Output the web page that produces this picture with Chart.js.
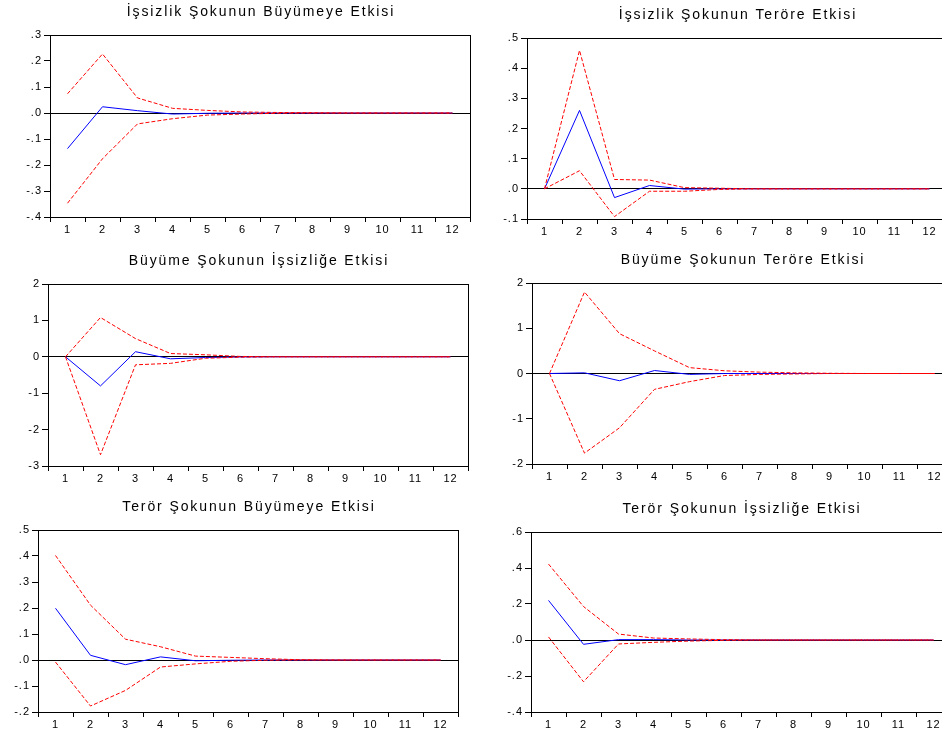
<!DOCTYPE html>
<html>
<head>
<meta charset="utf-8">
<script src="https://cdn.jsdelivr.net/npm/chart.js@4/dist/chart.umd.min.js"></script>
<style>
  html, body { margin: 0; padding: 0; background: #fff; overflow: hidden; width: 942px; height: 731px; }
  canvas { position: absolute; }
</style>
</head>
<body>
<canvas id="c1"></canvas>
<canvas id="c2"></canvas>
<canvas id="c3"></canvas>
<canvas id="c4"></canvas>
<canvas id="c5"></canvas>
<canvas id="c6"></canvas>
<script>
const periods = ['1', '2', '3', '4', '5', '6', '7', '8', '9', '10', '11', '12']

// İşsizlik şoku -> büyüme
const issBuyIrf = [-0.137, 0.024, 0.009, -0.004, -0.001, 0, 0, 0, 0, 0, 0, 0]
const issBuyUp = [0.074, 0.227, 0.058, 0.018, 0.010, 0.004, 0.002, 0.001, 0, 0, 0, 0]
const issBuyLo = [-0.347, -0.176, -0.042, -0.022, -0.008, -0.004, -0.001, 0, 0, 0, 0, 0]
const issBuyTicks = [-0.4, 0.3, 0.1]

// İşsizlik şoku -> terör
const issTerIrf = [0, 0.260, -0.029, 0.011, -0.001, 0, 0, 0, 0, 0, 0, 0]
const issTerUp = [0, 0.459, 0.031, 0.029, 0.004, 0.002, 0, 0, 0, 0, 0, 0]
const issTerLo = [0, 0.060, -0.092, -0.008, -0.008, -0.002, 0, 0, 0, 0, 0, 0]
const issTerTicks = [-0.1, 0.5, 0.1]

// Büyüme şoku -> işsizlik
const buyIssIrf = [0, -0.80, 0.14, -0.055, -0.02, -0.005, 0, 0, 0, 0, 0, 0]
const buyIssUp = [0, 1.08, 0.50, 0.09, 0.055, 0.01, 0, 0, 0, 0, 0, 0]
const buyIssLo = [0, -2.69, -0.22, -0.18, -0.04, -0.01, 0, 0, 0, 0, 0, 0]
const buyIssTicks = [-3, 2, 1]

// Büyüme şoku -> terör
const buyTerIrf = [0, 0.015, -0.16, 0.066, -0.02, 0, 0, 0, 0, 0, 0, 0]
const buyTerUp = [0, 1.80, 0.88, 0.50, 0.13, 0.06, 0.03, 0.015, 0.005, 0, 0, 0]
const buyTerLo = [0, -1.76, -1.20, -0.35, -0.18, -0.045, -0.02, -0.01, 0, 0, 0, 0]
const buyTerTicks = [-2, 2, 1]

// Terör şoku -> büyüme
const terBuyIrf = [0.199, 0.018, -0.018, 0.012, -0.003, -0.001, 0, 0, 0, 0, 0, 0]
const terBuyUp = [0.402, 0.211, 0.080, 0.051, 0.015, 0.010, 0.005, 0.001, 0, 0, 0, 0]
const terBuyLo = [-0.008, -0.177, -0.117, -0.027, -0.015, -0.005, -0.001, 0, 0, 0, 0, 0]
const terBuyTicks = [-0.2, 0.5, 0.1]

// Terör şoku -> işsizlik
const terIssIrf = [0.220, -0.024, 0.002, 0.002, 0, 0, 0, 0, 0, 0, 0, 0]
const terIssUp = [0.422, 0.186, 0.033, 0.011, 0.006, 0.002, 0, 0, 0, 0, 0, 0]
const terIssLo = [0.017, -0.232, -0.022, -0.013, -0.006, -0.002, 0, 0, 0, 0, 0, 0]
const terIssTicks = [-0.4, 0.6, 0.2]

const PLOT_W = 420
const Y_W = 50
const TITLE_H = 35
const X_H = 25
const FONT = '"Liberation Sans", Arial, sans-serif'

Chart.defaults.font.family = FONT
Chart.defaults.font.size = 11
Chart.defaults.color = '#000'

// frame round the plot area + panel title centred over it
const panelPlugin = {
  id: 'panel',
  beforeDraw(chart) {
    chart.ctx.letterSpacing = '1px'
  },
  afterDraw(chart, args, opts) {
    const a = chart.chartArea
    const ctx = chart.ctx
    ctx.save()
    ctx.strokeStyle = '#000'
    ctx.lineWidth = 1
    ctx.strokeRect(Math.round(a.left) + 0.5, Math.round(a.top) + 0.5, Math.round(a.right - a.left), Math.round(a.bottom - a.top))
    ctx.letterSpacing = '1.9px'
    ctx.font = '14px ' + FONT
    ctx.fillStyle = '#000'
    ctx.textAlign = 'center'
    ctx.textBaseline = 'middle'
    ctx.fillText(opts.text, (a.left + a.right) / 2 + 1, a.top - 23)
    ctx.restore()
  }
}

function fmtTick(step) {
  return v => {
    if (Math.abs(v) < 1e-9) v = 0
    if (Number.isInteger(step)) return String(Math.round(v))
    return v.toFixed(1).replace(/^(-?)0\./, '$1.')
  }
}

function makePanel(id, title, box, ticks, irf, up, lo) {
  const el = document.getElementById(id)
  el.width = PLOT_W + 2 * Y_W
  el.height = TITLE_H + (box.B - box.T) + X_H
  el.style.left = (box.L - Y_W) + 'px'
  el.style.top = (box.T - TITLE_H) + 'px'

  new Chart(el, {
    type: 'line',
    data: {
      labels: periods,
      datasets: [{
        data: up,
        borderColor: '#FF0000',
        borderWidth: 1,
        borderDash: [4, 2]
      },
      {
        data: lo,
        borderColor: '#FF0000',
        borderWidth: 1,
        borderDash: [4, 2]
      },
      {
        data: irf,
        borderColor: '#0000FF',
        borderWidth: 1
      }]
    },
    options: {
      responsive: false,
      animation: false,
      devicePixelRatio: 1,
      layout: { padding: { left: 0, right: Y_W, top: TITLE_H, bottom: 0 } },
      elements: { point: { radius: 0 }, line: { tension: 0 } },
      plugins: {
        legend: { display: false },
        tooltip: { enabled: false },
        title: { display: false },
        panel: { text: title }
      },
      scales: {
        x: {
          offset: true,
          grid: { offset: true, drawOnChartArea: false, tickLength: 5, tickColor: '#000' },
          border: { display: true, color: '#000' },
          ticks: { autoSkip: false, maxRotation: 0, padding: 1, color: '#000' },
          afterFit: s => { s.height = X_H }
        },
        y: {
          min: ticks[0],
          max: ticks[1],
          grid: {
            drawOnChartArea: true,
            tickLength: 6,
            tickColor: '#000',
            color: c => (c.tick && Math.abs(c.tick.value) < 1e-9) ? '#000' : 'rgba(0,0,0,0)'
          },
          border: { display: true, color: '#000' },
          ticks: { stepSize: ticks[2], padding: 2, color: '#000', callback: fmtTick(ticks[2]) },
          afterFit: s => { s.width = Y_W }
        }
      }
    },
    plugins: [panelPlugin]
  })
}

makePanel('c1', 'İşsizlik Şokunun Büyümeye Etkisi', { L: 50, T: 35, B: 217 }, issBuyTicks, issBuyIrf, issBuyUp, issBuyLo)
makePanel('c2', 'İşsizlik Şokunun Teröre Etkisi', { L: 527, T: 38, B: 219 }, issTerTicks, issTerIrf, issTerUp, issTerLo)
makePanel('c3', 'Büyüme Şokunun İşsizliğe Etkisi', { L: 48, T: 284, B: 466 }, buyIssTicks, buyIssIrf, buyIssUp, buyIssLo)
makePanel('c4', 'Büyüme Şokunun Teröre Etkisi', { L: 532, T: 283, B: 464 }, buyTerTicks, buyTerIrf, buyTerUp, buyTerLo)
makePanel('c5', 'Terör Şokunun Büyümeye Etkisi', { L: 38, T: 530, B: 712 }, terBuyTicks, terBuyIrf, terBuyUp, terBuyLo)
makePanel('c6', 'Terör Şokunun İşsizliğe Etkisi', { L: 531, T: 532, B: 712 }, terIssTicks, terIssIrf, terIssUp, terIssLo)
</script>
</body>
</html>
